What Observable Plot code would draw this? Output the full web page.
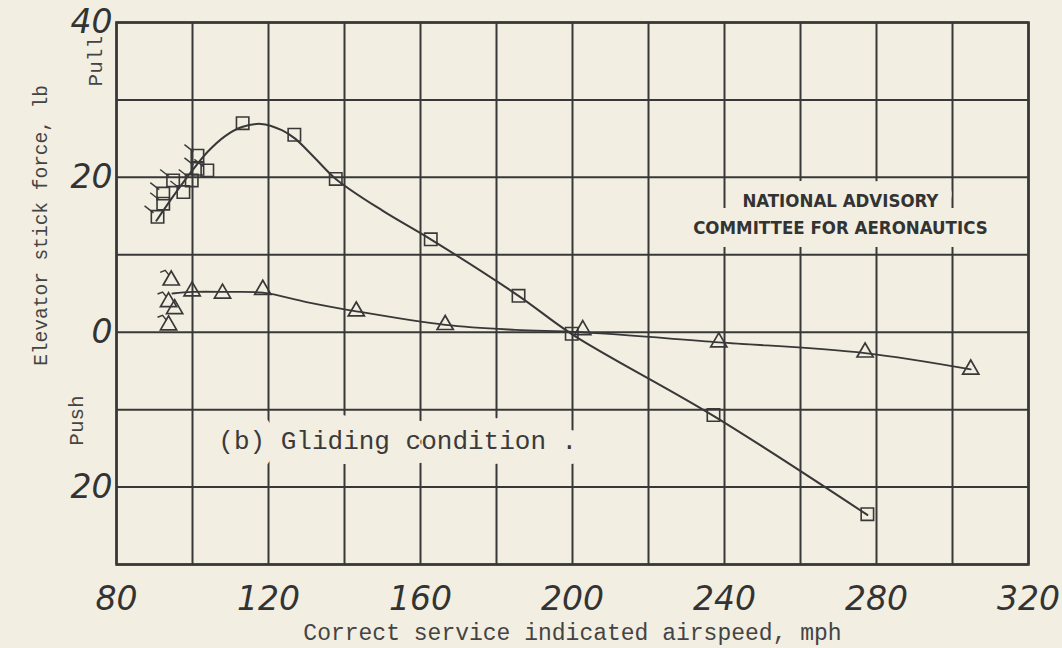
<!DOCTYPE html>
<html>
<head>
<meta charset="utf-8">
<script src="https://cdn.jsdelivr.net/npm/d3@7"></script>
<script src="https://cdn.jsdelivr.net/npm/@observablehq/plot@0.6"></script>
<style>
  html, body { margin: 0; padding: 0; background: #f2eee1; }
  #chart svg { display: block; }
</style>
</head>
<body>
<div id="chart"></div>
<script>
// ---- data ----
const speedTicks = [80, 120, 160, 200, 240, 280, 320];
const forceTicks = [40, 20, 0, -20];
const gridSpeeds = [80, 100, 120, 140, 160, 180, 200, 220, 240, 260, 280, 300, 320];
const gridForces = [-30, -20, -10, 0, 10, 20, 30, 40];

// squares (pull-force curve)
const sqSpeed = [90.8, 92.3, 92.3, 94.9, 97.6, 99.8, 101.3, 101.3, 103.9, 113.2, 126.8, 137.7, 162.7, 185.8, 199.8, 237.1, 277.6];
const sqForce = [14.9, 16.6, 17.9, 19.6, 18.1, 19.6, 22.8, 21.1, 20.9, 27.0, 25.5, 19.8, 12.0, 4.7, -0.2, -10.7, -23.5];
const sqFlag  = [true, true, true, true, true, true, true, true, true, false, false, false, false, false, false, false, false];

// triangles
const triSpeed = [94.4, 93.7, 95.3, 93.7, 99.9, 107.9, 118.5, 143.1, 166.5, 202.7, 238.5, 277.0, 304.8];
const triForce = [6.7, 3.9, 3.0, 0.9, 5.3, 5.0, 5.5, 2.7, 0.95, 0.3, -1.3, -2.6, -4.8];
const triFlag  = [true, true, false, true, false, false, false, false, false, false, false, false, false];

// faired curves
const sqCurveSpeed = [90.5, 95, 99.5, 104, 108.5, 113, 118, 123.5, 127, 132, 137.7, 150, 162.7, 185.8, 200, 237.1, 277.6];
const sqCurveForce = [14.4, 17.6, 20.6, 23.3, 25.3, 26.5, 26.9, 26.1, 25.0, 22.6, 19.8, 15.7, 12.0, 4.7, -0.3, -10.8, -23.6];
const triCurveSpeed = [94.7, 100, 109, 118.5, 130, 143.1, 166.5, 185, 202, 238.5, 277, 304.8];
const triCurveForce = [5.0, 5.2, 5.2, 5.1, 3.9, 2.7, 0.95, 0.3, 0.0, -1.3, -2.7, -4.8];

const xTitle = "Correct service indicated airspeed, mph";
const yTitle = "Elevator stick force, lb";
const naca = [{x: 270.5, y: 15.5, text: "NATIONAL ADVISORY\nCOMMITTEE FOR AERONAUTICS"}];
const caption = [{x: 106.8, y: -14.0, text: "(b) Gliding condition ."}];
// margin labels (positions in data units, outside the frame)
const sideLabels = [
  {x: 60.0, y: 13.8, text: yTitle, size: 19.5},
  {x: 74.5, y: 35.0, text: "Pull", size: 21},
  {x: 69.5, y: -11.4, text: "Push", size: 21}
];

// ---- build tables ----
const squares = sqSpeed.map((s, i) => ({speed: s, force: sqForce[i], flag: sqFlag[i]}));
const triangles = triSpeed.map((s, i) => ({speed: s, force: triForce[i], flag: triFlag[i]}));
const sqCurve = sqCurveSpeed.map((s, i) => ({speed: s, force: sqCurveForce[i]}));
const triCurve = triCurveSpeed.map((s, i) => ({speed: s, force: triCurveForce[i]}));

const ink = "#383838";
const paper = "#f2eee1";
const digitFont = "DejaVu Sans";
const typeFont = "Liberation Mono";

const flagSymbol = {
  draw(ctx) { ctx.moveTo(-4, -4); ctx.lineTo(-13, -11); }
};
const triFlagSymbol = {
  draw(ctx) { ctx.moveTo(-2, -5); ctx.lineTo(-6, -10); ctx.lineTo(-11, -8); }
};

const chart = Plot.plot({
  width: 1062,
  height: 648,
  marginLeft: 116,
  marginRight: 34,
  marginTop: 22,
  marginBottom: 84,
  style: {background: "transparent", overflow: "visible"},
  x: {domain: [80, 320], axis: null},
  y: {domain: [-30, 40], axis: null},
  marks: [
    Plot.ruleX(gridSpeeds, {x: d => d, stroke: ink, strokeWidth: 2}),
    Plot.ruleY(gridForces, {y: d => d, stroke: ink, strokeWidth: 2}),
    Plot.frame({stroke: ink, strokeWidth: 2.6}),
    // annotations with paper halos that break the grid
    Plot.text(naca, {x: "x", y: "y", text: "text", fontFamily: "DejaVu Sans Condensed, DejaVu Sans", fontWeight: "bold",
      fontSize: 18.5, lineHeight: 1.42, fill: "#333", stroke: paper, strokeWidth: 26, paintOrder: "stroke"}),
    Plot.text(caption, {x: "x", y: "y", text: "text", textAnchor: "start", fontFamily: typeFont, fontSize: 26,
      fill: "#3a3a3a", stroke: paper, strokeWidth: 30, paintOrder: "stroke"}),
    // curves
    Plot.line(sqCurve, {x: "speed", y: "force", curve: "catmull-rom", stroke: ink, strokeWidth: 2}),
    Plot.line(triCurve, {x: "speed", y: "force", curve: "catmull-rom", stroke: ink, strokeWidth: 1.8}),
    // markers
    Plot.dot(squares, {x: "speed", y: "force", symbol: "square", r: 7, stroke: ink, fill: "none", strokeWidth: 1.6}),
    Plot.dot(squares.filter(d => d.flag), {x: "speed", y: "force", symbol: flagSymbol, r: 7, stroke: ink, fill: "none", strokeWidth: 1.4}),
    Plot.dot(triangles, {x: "speed", y: "force", symbol: "triangle", r: 6, stroke: ink, fill: "none", strokeWidth: 1.7}),
    Plot.dot(triangles.filter(d => d.flag), {x: "speed", y: "force", symbol: triFlagSymbol, r: 6, stroke: ink, fill: "none", strokeWidth: 1.4}),
    // tick labels
    Plot.text(speedTicks, {x: d => d, frameAnchor: "bottom", lineAnchor: "middle", dy: 35, text: d => String(d), fontFamily: digitFont,
      fontWeight: 200, fontStyle: "italic", fontSize: 33, fill: "#333"}),
    Plot.text(forceTicks, {y: d => d, frameAnchor: "left", lineAnchor: "middle", dx: -4, textAnchor: "end", text: d => String(Math.abs(d)),
      fontFamily: digitFont, fontWeight: 200, fontStyle: "italic", fontSize: 33, fill: "#333"}),
    // axis titles and sense labels
    Plot.text([xTitle], {frameAnchor: "bottom", lineAnchor: "middle", textAnchor: "middle", dy: 68, text: d => d, fontFamily: typeFont, fontSize: 23, fill: "#444"}),
    Plot.text(sideLabels, {x: "x", y: "y", text: "text", fontSize: d => d.size, rotate: -90, textAnchor: "middle", lineAnchor: "middle",
      fontFamily: typeFont, fill: "#444"})
  ]
});
document.getElementById("chart").append(chart);
</script>
</body>
</html>
